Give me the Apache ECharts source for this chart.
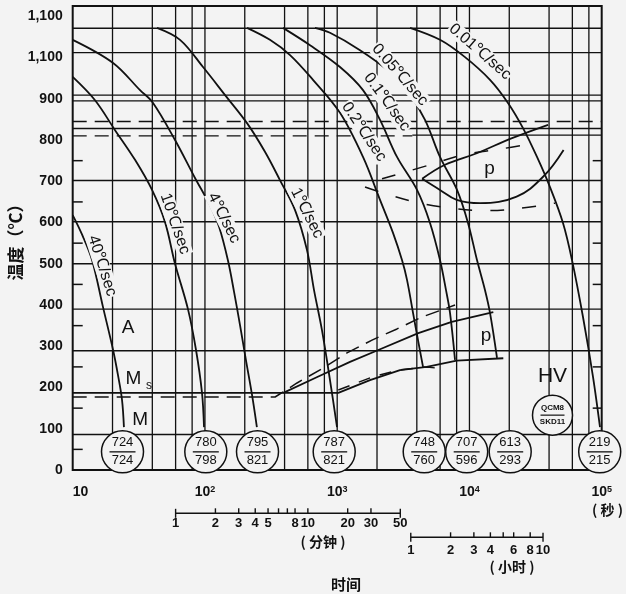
<!DOCTYPE html>
<html>
<head>
<meta charset="utf-8">
<script src="https://cdn.jsdelivr.net/npm/echarts@6/dist/echarts.min.js"></script>
<style>
  html, body { margin: 0; padding: 0; background: #f3f3f3; }
  #chart { width: 626px; height: 594px; }
</style>
</head>
<body>
<div id="chart"></div>
<script>
// time in seconds (log axis), temperature in ℃
const cooling40 = [[10, 618], [11.8, 570], [14, 509], [16.95, 395], [20.2, 291], [22, 230], [23.6, 170], [24.4, 104]];
const cooling10 = [[10, 953], [14.7, 897], [20.9, 824], [29.6, 752], [39.8, 679], [49.9, 601], [59.4, 500], [74.4, 390], [85.6, 291], [95, 187], [98.4, 104]];
const cooling4 = [[10, 1043], [20.2, 987], [32.3, 921], [40.5, 890], [59.4, 800], [84.1, 708], [109, 642], [128, 589], [149, 509], [166, 432], [184, 352], [204, 267], [227, 182], [247, 104]];
const cooling1 = [[43.4, 1072], [64.8, 1043], [96.7, 977], [142, 909], [208, 841], [285, 771], [369, 703], [480, 630], [591, 533], [668, 436], [767, 339], [882, 218], [997, 104]];
const cooling02 = [[208, 1072], [310, 1043], [440, 1006], [656, 946], [1050, 866], [1567, 759], [2107, 655], [2642, 575], [3090, 509], [3372, 461], [3744, 381], [4083, 315], [4456, 250]];
const cooling01 = [[389, 1072], [623, 1030], [1050, 977], [1567, 921], [2107, 849], [2833, 759], [4013, 679], [5032, 599], [5988, 509], [6649, 436], [7129, 381], [7778, 267]];
const cooling005 = [[679, 1072], [882, 1060], [1488, 1018], [2507, 965], [3372, 921], [4613, 849], [5988, 759], [8053, 679], [9752, 599], [11403, 509], [13115, 436], [14305, 381], [16158, 272]];
const cooling001 = [[3553, 1072], [5988, 1043], [9256, 1001], [14305, 946], [19564, 890], [25410, 829], [32420, 759], [40640, 686], [50970, 599], [59640, 509], [72200, 371], [85950, 226], [97070, 104]];
const coolingCurves = [cooling40, cooling10, cooling4, cooling1, cooling02, cooling01, cooling005, cooling001];
const rateNames = ['40℃/sec', '10℃/sec', '4℃/sec', '1℃/sec', '0.2℃/sec', '0.1℃/sec', '0.05℃/sec', '0.01℃/sec'];
const rateLabelAt = [[16.7, 495], [59.4, 597], [139, 611], [591, 623], [1594, 820], [2380, 892], [2985, 958], [12018, 1014]];

// pearlite nose (upper) and lower transformation band
const pearliteStart = [[4390, 706], [6534, 740], [11360, 768], [20750, 804], [39330, 837]];
const pearliteEnd = [[4390, 706], [5988, 679], [8010, 655], [12020, 647], [22740, 663], [36050, 711], [51490, 776]];
const pearliteStartDashed = [[2183, 706], [5032, 740], [8938, 764], [17020, 778], [31310, 793]];
const pearliteEndDashed = [[1623, 686], [2107, 674], [3877, 650], [7129, 635], [13578, 629], [24970, 635], [44350, 647]];
const lowerBandTop = [[391, 187], [700, 225], [1250, 262], [2046, 291], [4105, 332], [7342, 359], [15150, 383]];
const msLine = [[10, 187], [1019, 187], [1770, 218], [2985, 242], [4750, 250], [8010, 265], [18030, 271]];
const msDashed = [[10, 177], [339, 177], [497, 211], [781, 247], [1186, 284], [1834, 315], [2833, 342], [4378, 371], [7778, 400]];
const lowerBandDashed = [[1019, 194], [1865, 226], [2985, 243], [4775, 250], [5988, 246]];

// hardness circles
const circleTimes = [23.8, 101.5, 249.7, 949, 4549, 9532, 20330, 96600];
const circleTop = ['724', '780', '795', '787', '748', '707', '613', '219'];
const circleBottom = ['724', '798', '821', '821', '760', '596', '293', '215'];
const circleTemp = 44;

// grid lines
const hSolid = [1071, 1012, 909, 895, 828, 702, 602, 500, 390, 289, 86];
const hDashed = [845];
const vLines = [20, 40, 60, 80, 100, 200, 400, 600, 800, 1000, 2000, 4000, 6000, 8000, 10000, 20000, 40000, 60000, 80000];
const leftTicks = [50, 150, 250, 350, 450, 550, 650, 750];
const rightTicks = [150, 250, 350, 450, 550, 650, 750];

// secondary time scales
const minuteTicks = [1, 2, 3, 4, 5, 6, 7, 8, 10, 20, 30, 50];
const minuteLabels = [1, 2, 3, 4, 5, 8, 10, 20, 30, 50];
const hourTicks = [1, 2, 3, 4, 5, 6, 8, 10];
const hourLabels = [1, 2, 3, 4, 6, 8, 10];

const INK = '#111111';
const BG = '#f3f3f3';
const LATIN = 'Liberation Sans, Arial, sans-serif';
const CJK = 'Noto Sans CJK SC, sans-serif';
const TMAX = 1125;

function line(data, width, type, extra) {
  return Object.assign({
    type: 'line', data: data, symbol: 'none', silent: true,
    lineStyle: { color: INK, width: width, type: type || 'solid' }, z: 2
  }, extra || {});
}

function textMarks(items, style, extra) {
  return Object.assign({
    type: 'scatter', silent: true, clip: false, symbolSize: 1,
    itemStyle: { color: 'rgba(0,0,0,0)', opacity: 1 },
    label: Object.assign({ show: true, position: 'inside', formatter: '{b}', color: INK, opacity: 1, fontFamily: LATIN }, style),
    data: items, z: 6
  }, extra || {});
}

const series = [];
vLines.forEach(v => series.push(line([[v, 0], [v, TMAX]], 1.3)));
hSolid.forEach(t => series.push(line([[10, t], [100000, t]], 1.4)));
hDashed.forEach(t => series.push(line([[10, t], [100000, t]], 1.4, [14, 8])));
series.push(line([[10, 810], [3700, 810]], 1.4, [14, 8]));
series.push(line([[3700, 812], [100000, 812]], 1.4));

coolingCurves.forEach(c => series.push(line(c, 1.8, 'solid', { smooth: 0.35, z: 3 })));
series.push(line(pearliteStart, 1.8, 'solid', { smooth: 0.4, z: 3 }));
series.push(line(pearliteEnd, 1.8, 'solid', { smooth: 0.4, z: 3 }));
series.push(line(pearliteStartDashed, 1.5, [14, 18], { smooth: 0.4, z: 3 }));
series.push(line(pearliteEndDashed, 1.5, [14, 18], { smooth: 0.4, z: 3 }));
series.push(line(lowerBandTop, 1.8, 'solid', { z: 3 }));
series.push(line(msLine, 1.8, 'solid', { z: 3 }));
series.push(line(msDashed, 1.5, [14, 8], { z: 3 }));
series.push(line(lowerBandDashed, 1.5, [12, 10], { z: 3 }));

// inner ticks on the frame
series.push({
  type: 'scatter', silent: true, clip: false, symbol: 'rect', symbolSize: [10, 1.5], symbolOffset: [5, 0],
  itemStyle: { color: INK, opacity: 1 }, data: leftTicks.map(t => [10, t]), z: 4
});
series.push({
  type: 'scatter', silent: true, clip: false, symbol: 'rect', symbolSize: [9, 1.5], symbolOffset: [-4.5, 0],
  itemStyle: { color: INK, opacity: 1 }, data: rightTicks.map(t => [100000, t]), z: 4
});

// rate labels along the curves
const rateAngles = [-72, -71, -63, -63, -56, -54, -49, -41];
series.push(textMarks(rateNames.map((n, i) => ({
  name: n, value: rateLabelAt[i], label: { rotate: rateAngles[i] }
})), { fontSize: 16, backgroundColor: BG, padding: [0, 1] }, { z: 5 }));

// region letters
series.push(textMarks([
  { name: 'A', value: [26.2, 344] },
  { name: 'M', value: [28.8, 222] },
  { name: 'M', value: [32.3, 121] },
  { name: 'p', value: [14180, 731] },
  { name: 'p', value: [13340, 326] },
  { name: 'HV', value: [42460, 227], label: { fontSize: 21 } }
], { fontSize: 19 }));
series.push(textMarks([{ name: 's', value: [37.8, 204] }], { fontSize: 12 }));

// hardness circles
series.push({
  type: 'scatter', silent: true, clip: false, symbol: 'circle', symbolSize: 42,
  itemStyle: { color: BG, borderColor: INK, borderWidth: 1.5, opacity: 1 },
  data: circleTimes.map((t, i) => ({ value: [t, circleTemp], name: circleTop[i] + '|' + circleBottom[i] })),
  label: {
    show: true, position: 'inside', color: INK, opacity: 1,
    formatter: p => { const s = p.name.split('|'); return '{n|' + s[0] + '}\n{l|}\n{n|' + s[1] + '}'; },
    rich: {
      n: { fontSize: 13, lineHeight: 15, fontFamily: LATIN, color: INK },
      l: { width: 26, height: 1.3, lineHeight: 3, backgroundColor: INK }
    }
  },
  z: 7
});
series.push({
  type: 'scatter', silent: true, clip: false, symbol: 'circle', symbolSize: 40,
  itemStyle: { color: BG, borderColor: INK, borderWidth: 1.5, opacity: 1 },
  data: [[42460, 133]],
  label: {
    show: true, position: 'inside', opacity: 1,
    formatter: '{q|QCM8}\n{l|}\n{q|SKD11}',
    rich: {
      q: { fontSize: 8, fontWeight: 'bold', lineHeight: 11, fontFamily: LATIN, color: INK },
      l: { width: 24, height: 1.2, lineHeight: 3, backgroundColor: INK }
    }
  },
  z: 7
});

// minute and hour scales under the axis (grid 1)
const sub = { xAxisIndex: 1, yAxisIndex: 1 };
const numStyle = { fontSize: 13, fontWeight: 'bold' };
function scale(ticks, unit, y, labels, labelY) {
  const first = ticks[0] * unit, last = ticks[ticks.length - 1] * unit;
  series.push(line([[first, y], [last, y]], 1.4, 'solid', sub));
  series.push(Object.assign({
    type: 'scatter', silent: true, clip: false, symbol: 'rect', itemStyle: { color: INK, opacity: 1 },
    symbolSize: [1.4, 5], symbolOffset: [0, -2.5],
    data: ticks.map((m, i) => (i === 0 || i === ticks.length - 1)
      ? { value: [m * unit, y], symbolSize: [1.4, 9], symbolOffset: [0, 0] }
      : [m * unit, y])
  }, sub));
  series.push(textMarks(labels.map(m => ({ name: String(m), value: [m * unit, labelY] })), numStyle, sub));
}
scale(minuteTicks, 60, 13.3, minuteLabels, 23.5);
scale(hourTicks, 3600, 37.3, hourLabels, 50);
series.push(textMarks([
  { name: '( 分钟 )', value: [781, 41.7] },
  { name: '( 小时 )', value: [20990, 67] },
  { name: '( 秒 )', value: [110700, 9.5] },
  { name: '时间', value: [1166, 84], label: { fontSize: 15 } }
], { fontSize: 14, fontWeight: 'bold', fontFamily: CJK }, sub));

const option = {
  animation: false,
  backgroundColor: BG,
  grid: [
    { left: 72.7, right: 24.3, top: 6, bottom: 124, show: true, borderColor: INK, borderWidth: 2, backgroundColor: 'transparent', containLabel: false, outerBoundsMode: 'none' },
    { left: 72.7, right: 24.3, top: 500, height: 94, containLabel: false, outerBoundsMode: 'none' }
  ],
  xAxis: [
    {
      type: 'log', logBase: 10, min: 10, max: 100000,
      axisLine: { show: false }, axisTick: { show: false }, splitLine: { show: false },
      axisLabel: {
        margin: 15, alignMinLabel: 'left',
        formatter: v => {
          const e = Math.round(Math.log10(v));
          return e === 1 ? '{b|10}' : '{b|10}{s|' + e + '}';
        },
        rich: {
          b: { fontSize: 14, fontWeight: 'bold', color: INK, fontFamily: LATIN },
          s: { fontSize: 9, fontWeight: 'bold', color: INK, fontFamily: LATIN, verticalAlign: 'top' }
        }
      }
    },
    { type: 'log', logBase: 10, min: 10, max: 100000, gridIndex: 1, show: false }
  ],
  yAxis: [
    {
      type: 'value', min: 0, max: TMAX, interval: 100,
      axisLine: { show: false }, axisTick: { show: false }, splitLine: { show: false },
      axisLabel: {
        margin: 10, fontSize: 14, fontWeight: 'bold', color: INK, fontFamily: LATIN,
        formatter: v => (v === 1000 || v === 1100) ? '1,100' : (v % 100 === 0 ? String(v) : '')
      },
      name: '温度（℃）', nameLocation: 'middle', nameRotate: 90, nameGap: 49, nameMoveOverlap: false,
      nameTextStyle: { fontSize: 17, fontWeight: 'bold', color: INK, fontFamily: CJK }
    },
    { type: 'value', min: 0, max: 94, inverse: true, gridIndex: 1, show: false }
  ],
  series: series
};

const chart = echarts.init(document.getElementById('chart'));
chart.setOption(option);
</script>
</body>
</html>
